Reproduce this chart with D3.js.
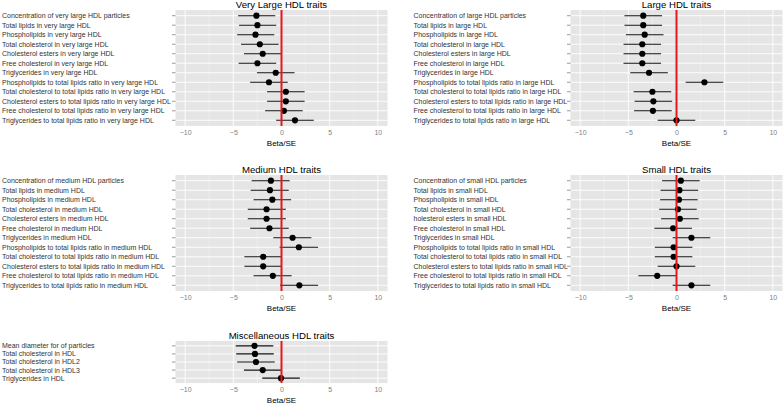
<!DOCTYPE html>
<html><head><meta charset="utf-8">
<script src="https://cdn.jsdelivr.net/npm/d3@7"></script>
<style>body{margin:0;background:#fff}svg{display:block}text{font-family:"Liberation Sans",Arial,sans-serif}</style>
</head><body>
<script>
const xTicks = [-10, -5, 0, 5, 10];
const xMinor = [-7.5, -2.5, 2.5, 7.5];

const vlTitle = "Very Large HDL traits";
const vlLabels = ["Concentration of very large HDL particles","Total lipids in very large HDL","Phospholipids in very large HDL","Total cholesterol in very large HDL","Cholesterol esters in very large HDL","Free cholesterol in very large HDL","Triglycerides in very large HDL","Phospholipids to total lipids ratio in very large HDL","Total cholesterol to total lipids ratio in very large HDL","Cholesterol esters to total lipids ratio in very large HDL","Free cholesterol to total lipids ratio in very large HDL","Triglycerides to total lipids ratio in very large HDL"];
const vlEst = [-2.6, -2.5, -2.7, -2.25, -1.95, -2.5, -0.6, -1.3, 0.45, 0.45, 0.25, 1.4];
const vlLo  = [-4.5, -4.4, -4.6, -4.2, -3.9, -4.45, -2.55, -3.25, -1.5, -1.5, -1.7, -0.55];
const vlHi  = [-0.65, -0.55, -0.75, -0.3, 0.0, -0.55, 1.35, 0.65, 2.4, 2.4, 2.2, 3.35];

const lTitle = "Large HDL traits";
const lLabels = ["Concentration of large HDL particles","Total lipids in large HDL","Phospholipids in large HDL","Total cholesterol in large HDL","Cholesterol esters in large HDL","Free cholesterol in large HDL","Triglycerides in large HDL","Phospholipids to total lipids ratio in large HDL","Total cholesterol to total lipids ratio in large HDL","Cholesterol esters to total lipids ratio in large HDL","Free cholesterol to total lipids ratio in large HDL","Triglycerides to total lipids ratio in large HDL"];
const lEst = [-3.45, -3.45, -3.3, -3.55, -3.55, -3.55, -2.85, 2.9, -2.5, -2.4, -2.45, 0.0];
const lLo  = [-5.4, -5.4, -5.25, -5.5, -5.5, -5.5, -4.8, 0.95, -4.45, -4.35, -4.4, -1.95];
const lHi  = [-1.5, -1.5, -1.35, -1.6, -1.6, -1.6, -0.9, 4.85, -0.55, -0.45, -0.5, 1.95];

const mTitle = "Medium HDL traits";
const mLabels = ["Concentration of medium HDL particles","Total lipids in medium HDL","Phospholipids in medium HDL","Total cholesterol in medium HDL","Cholesterol esters in medium HDL","Free cholesterol in medium HDL","Triglycerides in medium HDL","Phospholipids to total lipids ratio in medium HDL","Total cholesterol to total lipids ratio in medium HDL","Cholesterol esters to total lipids ratio in medium HDL","Free cholesterol to total lipids ratio in medium HDL","Triglycerides to total lipids ratio in medium HDL"];
const mEst = [-1.1, -1.2, -0.95, -1.55, -1.55, -1.25, 1.15, 1.8, -1.9, -1.9, -0.9, 1.85];
const mLo  = [-3.1, -3.2, -2.9, -3.5, -3.5, -3.25, -0.85, -0.2, -3.85, -3.85, -2.9, -0.15];
const mHi  = [0.85, 0.75, 1.0, 0.45, 0.45, 0.75, 3.1, 3.8, 0.05, 0.05, 1.05, 3.8];

const sTitle = "Small HDL traits";
const sLabels = ["Concentration of small HDL particles","Total lipids in small HDL","Phospholipids in small HDL","Total cholesterol in small HDL","holesterol esters in small HDL","Free cholesterol in small HDL","Triglycerides in small HDL","Phospholipids to total lipids ratio in small HDL","Total cholesterol to total lipids ratio in small HDL","Cholesterol esters to total lipids ratio in small HDL","Free cholesterol to total lipids ratio in small HDL","Triglycerides to total lipids ratio in small HDL"];
const sEst = [0.45, 0.3, 0.25, 0.15, 0.35, -0.35, 1.55, -0.3, -0.3, 0.0, -2.0, 1.55];
const sLo  = [-1.5, -1.65, -1.7, -1.8, -1.6, -2.3, -0.4, -2.25, -2.25, -1.95, -3.95, -0.4];
const sHi  = [2.4, 2.25, 2.2, 2.1, 2.3, 1.6, 3.5, 1.65, 1.65, 1.95, -0.05, 3.5];

const miscTitle = "Miscellaneous HDL traits";
const miscLabels = ["Mean diameter for of particles","Total cholesterol in HDL","Total cholesterol in HDL2","Total cholesterol in HDL3","Triglycerides in HDL"];
const miscEst = [-2.8, -2.75, -2.65, -1.95, -0.05];
const miscLo  = [-4.75, -4.7, -4.6, -3.9, -2.0];
const miscHi  = [-0.85, -0.8, -0.7, 0.0, 1.9];

const xLabel = "Beta/SE";

const W = 784, H = 403;
const svg = d3.select("body").append("svg").attr("width", W).attr("height", H);

const panels = [
  {title: vlTitle, labels: vlLabels, est: vlEst, lo: vlLo, hi: vlHi, lx: 2, x0: 175.5, x1: 387.5, y0: 10, y1: 126},
  {title: lTitle, labels: lLabels, est: lEst, lo: lLo, hi: lHi, lx: 413.5, x0: 570.5, x1: 782.5, y0: 10, y1: 126},
  {title: mTitle, labels: mLabels, est: mEst, lo: mLo, hi: mHi, lx: 2, x0: 175.5, x1: 387.5, y0: 175, y1: 291},
  {title: sTitle, labels: sLabels, est: sEst, lo: sLo, hi: sHi, lx: 413.5, x0: 570.5, x1: 782.5, y0: 175, y1: 291},
  {title: miscTitle, labels: miscLabels, est: miscEst, lo: miscLo, hi: miscHi, lx: 2, x0: 175.5, x1: 387.5, y0: 341, y1: 383}
];

panels.forEach(p => {
  const g = svg.append("g");
  const x = d3.scaleLinear().domain([-11, 11]).range([p.x0, p.x1]);
  const y = d3.scalePoint().domain(p.labels).range([p.y0, p.y1]).padding(0.6);

  g.append("rect").attr("x", p.x0).attr("y", p.y0).attr("width", p.x1 - p.x0).attr("height", p.y1 - p.y0).attr("fill", "#e5e5e5");
  g.selectAll(".minor").data(xMinor).enter().append("line")
    .attr("x1", d => x(d)).attr("x2", d => x(d)).attr("y1", p.y0).attr("y2", p.y1)
    .attr("stroke", "#f2f2f2").attr("stroke-width", 0.5);
  g.selectAll(".majx").data(xTicks).enter().append("line")
    .attr("x1", d => x(d)).attr("x2", d => x(d)).attr("y1", p.y0).attr("y2", p.y1)
    .attr("stroke", "#ffffff").attr("stroke-width", 0.9);
  g.selectAll(".majy").data(p.labels).enter().append("line")
    .attr("x1", p.x0).attr("x2", p.x1).attr("y1", d => y(d)).attr("y2", d => y(d))
    .attr("stroke", "#ffffff").attr("stroke-width", 0.9);

  // y ticks
  g.selectAll(".yt").data(p.labels).enter().append("line")
    .attr("x1", p.x0 - 3.5).attr("x2", p.x0).attr("y1", d => y(d)).attr("y2", d => y(d))
    .attr("stroke", "#555").attr("stroke-width", 0.6);
  // y labels (left-aligned)
  g.selectAll(".yl").data(p.labels).enter().append("text")
    .attr("x", p.lx).attr("y", d => y(d)).attr("dy", "0.35em")
    .attr("font-size", 7).attr("fill", "#333").text(d => d);

  // error bars
  g.selectAll(".eb").data(p.labels).enter().append("line")
    .attr("x1", (d, i) => x(p.lo[i])).attr("x2", (d, i) => x(p.hi[i]))
    .attr("y1", d => y(d)).attr("y2", d => y(d))
    .attr("stroke", "#111").attr("stroke-width", 1.1);
  // points
  g.selectAll(".pt").data(p.labels).enter().append("circle")
    .attr("cx", (d, i) => x(p.est[i])).attr("cy", d => y(d)).attr("r", 3.1).attr("fill", "#000");
  // red zero line
  g.append("line").attr("x1", x(0)).attr("x2", x(0)).attr("y1", p.y0).attr("y2", p.y1)
    .attr("stroke", "#e8161c").attr("stroke-width", 2);

  // x axis labels
  const ax = g.append("g").attr("transform", `translate(0,${p.y1})`)
    .call(d3.axisBottom(x).tickValues(xTicks).tickSize(0).tickPadding(4).tickFormat(d3.format("d")));
  ax.select(".domain").remove();
  ax.selectAll("text").attr("font-size", 7).attr("fill", "#7f7f7f").attr("font-family", '"Liberation Sans",Arial,sans-serif');

  g.append("text").attr("x", (p.x0 + p.x1) / 2).attr("y", p.y1 + 19.5).attr("text-anchor", "middle")
    .attr("font-size", 8).attr("fill", "#000").text(xLabel);
  g.append("text").attr("x", (p.x0 + p.x1) / 2).attr("y", p.y0 - 2.5).attr("text-anchor", "middle")
    .attr("font-size", 9.6).attr("fill", "#000").text(p.title);
});
</script>
</body></html>
